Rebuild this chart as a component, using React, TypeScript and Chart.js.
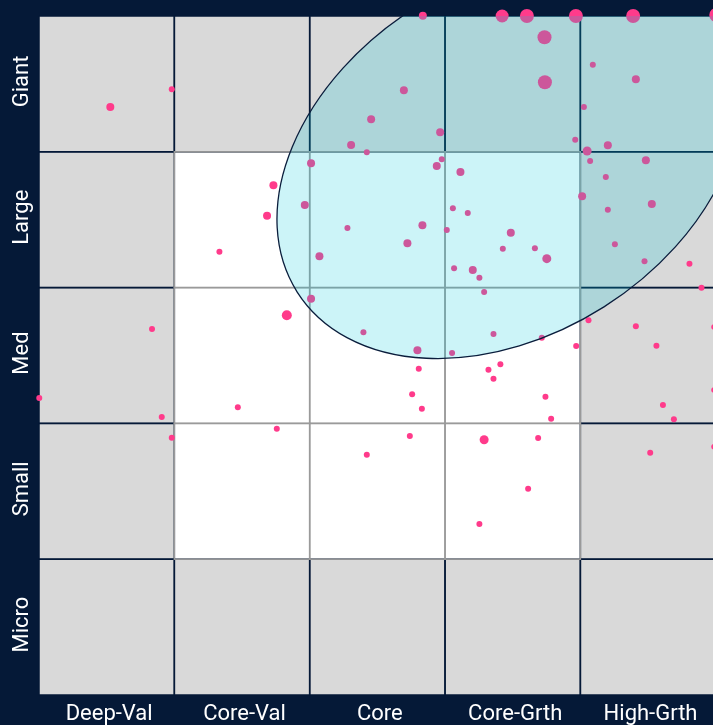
import { useEffect, useRef } from 'react';
import { Chart, registerables } from 'chart.js';

Chart.register(...registerables);

// Style box categories
const styleLabels = ['Deep-Val', 'Core-Val', 'Core', 'Core-Grth', 'High-Grth'];
const sizeLabels = ['Micro', 'Small', 'Med', 'Large', 'Giant'];
const innerCols = [1, 2, 3];
const innerRows = [1, 2, 3];

// Holdings (x = style score, y = size score, r = weight marker radius)
const holdingsX = [
  0.527, 0.981, 2.836, 2.696, 2.454, 2.964, 2.306, 2.422, 2.976, 2.939,
  3.114, 2.010, 1.732, 1.964, 1.685, 2.279, 2.833, 3.058, 3.168, 3.013,
  2.722, 3.422, 3.605, 3.967, 4.390, 5.004, 3.735, 3.738, 4.092, 4.410,
  4.026, 3.962, 4.203, 4.050, 4.072, 4.484, 4.188, 4.013, 4.528, 4.203,
  3.486, 1.333, 0.835, 0.002, 0.907, 0.981, 1.469, 2.072, 3.067, 3.205,
  3.254, 2.010, 1.831, 2.397, 2.796, 3.052, 2.806, 2.757, 2.829, 1.757,
  2.740, 2.422, 3.427, 3.664, 3.752, 3.289, 4.255, 4.474, 4.806, 4.895,
  4.989, 4.060, 4.410, 4.562, 3.358, 3.715, 3.969, 3.321, 3.409, 3.358,
  3.742, 3.784, 4.610, 4.691, 4.989, 3.289, 3.688, 4.516, 4.989, 3.614,
  3.254,
];
const holdingsY = [
  4.330, 4.460, 5.002, 4.453, 4.239, 4.144, 4.050, 3.996, 3.945, 3.895,
  3.851, 3.915, 3.753, 3.608, 3.529, 3.439, 3.459, 3.584, 3.549, 3.424,
  3.326, 5.000, 5.000, 5.000, 5.000, 5.007, 4.843, 4.512, 4.641, 4.534,
  4.330, 4.089, 4.048, 4.006, 3.932, 3.937, 3.814, 3.672, 3.616, 3.574,
  3.404, 3.264, 2.695, 2.187, 2.047, 1.895, 2.119, 3.230, 3.142, 3.130,
  3.073, 2.918, 2.796, 2.671, 2.538, 2.518, 2.403, 2.214, 2.108, 1.961,
  1.907, 1.770, 3.286, 3.289, 3.213, 2.968, 3.319, 3.194, 3.176, 2.999,
  2.710, 2.759, 2.715, 2.572, 2.658, 2.631, 2.570, 2.395, 2.435, 2.329,
  2.197, 2.035, 2.135, 2.030, 2.246, 1.880, 1.892, 1.784, 1.828, 1.519,
  1.259,
];
const holdingsR = [
  4, 3, 4, 4, 4, 4, 4, 3, 3, 4,
  4, 4, 4, 4, 4, 3, 4, 3, 3, 3,
  4, 6.5, 7, 7, 7, 7, 7, 7, 3, 4,
  3, 3, 4, 4.5, 3, 4, 3, 4, 4, 3,
  4, 3, 3, 3, 3, 3, 3, 4, 3, 4,
  3, 4, 5, 3, 4, 3, 3, 3, 3, 3,
  3, 3, 3, 3, 4.5, 3, 3, 3, 3, 3,
  3, 3, 3, 3, 3, 3, 3, 3, 3, 3,
  3, 3, 3, 3, 3, 4.5, 3, 3, 3, 3,
  3,
];

// Ownership zone ellipse (data units)
const zoneCenter = [3.474, 3.958];
const zoneRadii = [1.855, 1.303];
const zoneAngleDeg = 32.4;

const X_MAX = 4.98;
const Y_MAX = 5;

const NAVY = '#051937';
const GRAY = '#d9d9d9';
const WHITE = '#ffffff';
const INNER_LINE = '#9a9a9a';
const PINK = '#ff3b8b';
const ZONE_FILL = 'rgba(0, 200, 220, 0.2)';
const ZONE_LINE = '#0a1d3c';
const FONT = 'Roboto, "Noto Sans", sans-serif';

const isInner = (i: number, j: number) => innerCols.includes(i) && innerRows.includes(j);

const gridPlugin = {
  id: 'styleGrid',
  beforeDatasetsDraw(chart: any) {
    const { ctx } = chart;
    const xs = chart.scales.x;
    const ys = chart.scales.y;
    const cells: { i: number; j: number; x0: number; x1: number; y0: number; y1: number }[] = [];
    styleLabels.forEach((_, i) => {
      sizeLabels.forEach((__, j) => {
        const x0 = xs.getPixelForValue(i);
        const x1 = xs.getPixelForValue(i + 1);
        const y0 = ys.getPixelForValue(j + 1);
        const y1 = ys.getPixelForValue(j);
        cells.push({ i, j, x0, x1, y0, y1 });
      });
    });
    ctx.save();
    cells.forEach((c) => {
      ctx.fillStyle = isInner(c.i, c.j) ? WHITE : GRAY;
      ctx.fillRect(c.x0, c.y0, c.x1 - c.x0, c.y1 - c.y0);
    });
    ctx.lineWidth = 1.5;
    ctx.strokeStyle = NAVY;
    cells.filter((c) => !isInner(c.i, c.j)).forEach((c) => {
      ctx.strokeRect(c.x0, c.y0, c.x1 - c.x0, c.y1 - c.y0);
    });
    ctx.strokeStyle = INNER_LINE;
    cells.filter((c) => isInner(c.i, c.j)).forEach((c) => {
      ctx.strokeRect(c.x0, c.y0, c.x1 - c.x0, c.y1 - c.y0);
    });
    ctx.restore();
  },
  afterDatasetsDraw(chart: any) {
    const { ctx, chartArea } = chart;
    const xs = chart.scales.x;
    const ys = chart.scales.y;
    const cx = xs.getPixelForValue(zoneCenter[0]);
    const cy = ys.getPixelForValue(zoneCenter[1]);
    const rx = Math.abs(xs.getPixelForValue(zoneRadii[0]) - xs.getPixelForValue(0));
    const ry = Math.abs(ys.getPixelForValue(zoneRadii[1]) - ys.getPixelForValue(0));
    ctx.save();
    ctx.beginPath();
    ctx.rect(chartArea.left, chartArea.top, chartArea.right - chartArea.left, chartArea.bottom - chartArea.top);
    ctx.clip();
    ctx.beginPath();
    ctx.ellipse(cx, cy, rx, ry, (-zoneAngleDeg * Math.PI) / 180, 0, Math.PI * 2);
    ctx.fillStyle = ZONE_FILL;
    ctx.fill();
    ctx.lineWidth = 1.3;
    ctx.strokeStyle = ZONE_LINE;
    ctx.stroke();
    ctx.restore();
  },
  afterDraw(chart: any) {
    const { ctx } = chart;
    const ys = chart.scales.y;
    ctx.save();
    ctx.fillStyle = '#ffffff';
    ctx.font = `22px ${FONT}`;
    ctx.textAlign = 'center';
    ctx.textBaseline = 'alphabetic';
    sizeLabels.forEach((label, j) => {
      const y = ys.getPixelForValue(j + 0.5) - 2.5;
      ctx.save();
      ctx.translate(28, y);
      ctx.rotate(-Math.PI / 2);
      ctx.fillText(label, 0, 0);
      ctx.restore();
    });
    ctx.restore();
  },
};

export default function App() {
  const ref = useRef<HTMLCanvasElement | null>(null);
  useEffect(() => {
    if (!ref.current) return;
    const chart = new Chart(ref.current, {
      type: 'bubble',
      data: {
        datasets: [
          {
            data: holdingsX.map((x, i) => ({ x, y: holdingsY[i], r: holdingsR[i] })),
            backgroundColor: PINK,
            borderWidth: 0,
            clip: false as any,
          },
        ],
      },
      options: {
        responsive: false,
        animation: false,
        layout: { autoPadding: false, padding: { left: 39, top: 16, right: 0, bottom: 0 } },
        plugins: { legend: { display: false }, tooltip: { enabled: false } },
        scales: {
          x: {
            type: 'linear',
            min: 0,
            max: X_MAX,
            grid: { display: false, drawTicks: false },
            border: { display: false },
            afterBuildTicks: (s: any) => {
              s.ticks = styleLabels.map((_, i) => ({ value: i + 0.5 }));
            },
            afterFit: (s: any) => {
              s.height = 30;
              s.paddingLeft = 0;
              s.paddingRight = 0;
            },
            ticks: {
              color: '#ffffff',
              font: { family: FONT, size: 22 },
              padding: 6,
              labelOffset: 2.5,
              autoSkip: false,
              maxRotation: 0,
              minRotation: 0,
              callback: (v: any) => styleLabels[Math.floor(Number(v))] ?? '',
            },
          },
          y: {
            type: 'linear',
            min: 0,
            max: Y_MAX,
            display: false,
          },
        },
      },
      plugins: [gridPlugin],
    } as any);
    return () => chart.destroy();
  }, []);
  return (
    <div style={{ position: 'fixed', left: 0, top: 0, width: 713, height: 725, background: NAVY, overflow: 'hidden' }}>
      <canvas ref={ref} width={713} height={725} style={{ display: 'block' }} />
    </div>
  );
}
